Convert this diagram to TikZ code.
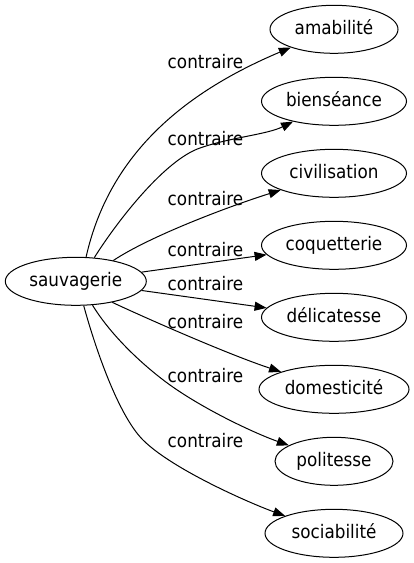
\documentclass[tikz,border=0pt]{standalone}
\usepackage{fontspec}
\setmainfont{DejaVu Sans}[FakeStretch=0.9]
\usetikzlibrary{shapes.geometric,arrows.meta}
\newcommand\lblfont{\fontsize{18.67pt}{22pt}\selectfont}
\begin{document}
\begin{tikzpicture}[x=1pt,y=-1pt,
  ell/.style={ellipse, draw, line width=1pt, minimum height=48pt, inner sep=0pt,
    text height=13.5pt, text depth=2.7pt, font=\lblfont},
  lab/.style={anchor=base, inner sep=0pt, font=\lblfont},
  edge/.style={line width=1pt, -{Triangle[length=12pt,width=9pt]}}]
\useasboundingbox (0,0) rectangle (414,563);
\node[ell, minimum width=141pt] (s) at (75.8,281.3) {sauvagerie};
\node[ell, minimum width=128pt] (amabilite) at (334,29.3) {amabilité};
\node[ell, minimum width=145pt] (bienseance) at (334,101.3) {bienséance};
\node[ell, minimum width=145pt] (civilisation) at (334,173.3) {civilisation};
\node[ell, minimum width=145pt] (coquetterie) at (334,245.3) {coquetterie};
\node[ell, minimum width=145pt] (delicatesse) at (334,317.3) {délicatesse};
\node[ell, minimum width=150pt] (domesticite) at (334,389.3) {domesticité};
\node[ell, minimum width=118pt] (politesse) at (334,461.3) {politesse};
\node[ell, minimum width=138pt] (sociabilite) at (334,533.3) {sociabilité};
\draw[edge] (s.67) .. controls (110,150) and (190,90) .. (amabilite);
\draw[edge] (s.52) .. controls (118,220) and (165,160) .. (200,148) .. controls (230,137.5) and (267,134.5) .. (bienseance);
\draw[edge] (s.29) .. controls (150,236) and (230,206) .. (civilisation);
\draw[edge] (s) -- (coquetterie);
\draw[edge] (s) -- (delicatesse);
\draw[edge] (s.330) .. controls (150,320) and (230,355) .. (domesticite);
\draw[edge] (s.305) .. controls (112,337) and (145,367) .. (170,385) .. controls (205,410) and (255,433.4) .. (politesse);
\draw[edge] (s.288) .. controls (95,347) and (118,415) .. (143,440) .. controls (173,470) and (253,504.4) .. (sociabilite);
\node[lab] (l1) at (205.5,68) {contraire};
\node[lab] (l2) at (205.5,145) {contraire};
\node[lab] (l3) at (205.5,205) {contraire};
\node[lab] (l4) at (205.5,256.5) {contraire};
\node[lab] (l5) at (205.5,290) {contraire};
\node[lab] (l6) at (205.5,328) {contraire};
\node[lab] (l7) at (205.5,382) {contraire};
\node[lab] (l8) at (205.5,447) {contraire};
\end{tikzpicture}
\end{document}
